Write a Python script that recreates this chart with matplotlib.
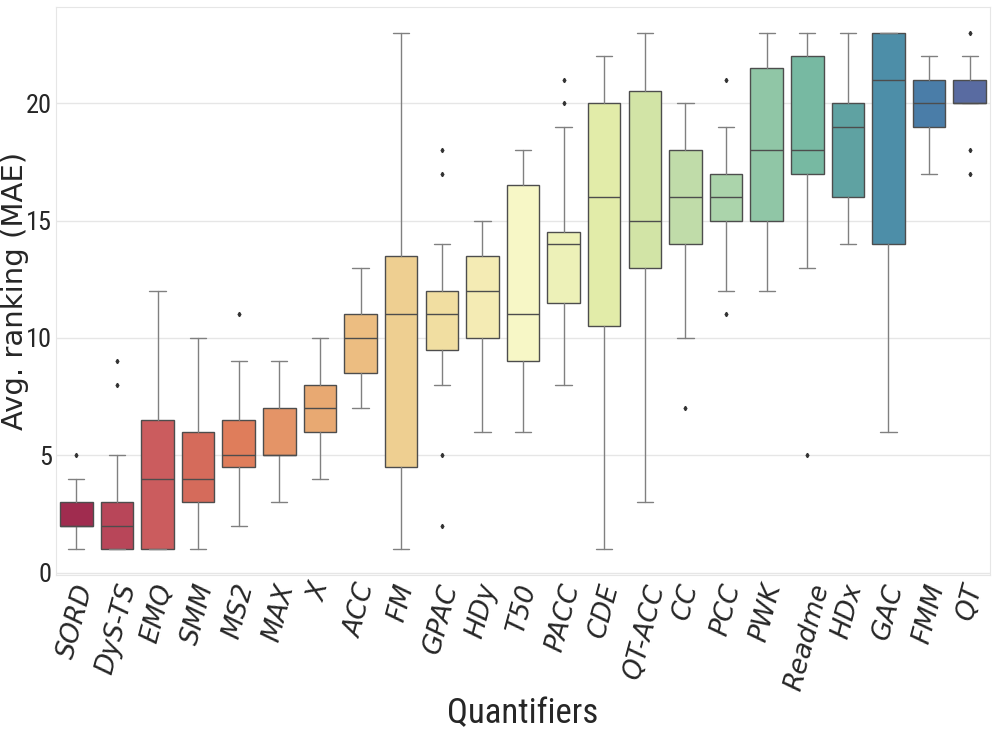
import matplotlib

matplotlib.use("Agg")
import matplotlib.pyplot as plt
import seaborn as sns

quantifiers = ["SORD", "DyS-TS", "EMQ", "SMM", "MS2", "MAX", "X", "ACC", "FM",
               "GPAC", "HDy", "T50", "PACC", "CDE", "QT-ACC", "CC", "PCC", "PWK",
               "Readme", "HDx", "GAC", "FMM", "QT"]
whislo = [1, 1, 1, 1, 2, 3, 4, 7, 1, 8, 6, 6, 8, 1, 3, 10, 12, 12, 13, 14, 6, 17, 20]
q1 = [2, 1, 1, 3, 4.5, 5, 6, 8.5, 4.5, 9.5, 10, 9, 11.5, 10.5, 13, 14, 15, 15, 17, 16, 14, 19, 20]
med = [2, 2, 4, 4, 5, 5, 7, 10, 11, 11, 12, 11, 14, 16, 15, 16, 16, 18, 18, 19, 21, 20, 20]
q3 = [3, 3, 6.5, 6, 6.5, 7, 8, 11, 13.5, 12, 13.5, 16.5, 14.5, 20, 20.5, 18, 17, 21.5, 22, 20, 23, 21, 21]
whishi = [4, 5, 12, 10, 9, 9, 10, 13, 23, 14, 15, 18, 19, 22, 23, 20, 19, 23, 23, 23, 23, 22, 22]
outliers = [[5], [8, 9], [], [], [11], [], [], [], [], [2, 5, 17, 18], [], [], [20, 21],
            [], [], [7], [11, 21], [], [5], [], [], [], [17, 18, 23]]

sns.set_style("whitegrid")
colors = sns.color_palette("Spectral", len(quantifiers), desat=0.75)

stats = []
for i, name in enumerate(quantifiers):
    stats.append(dict(label=name, whislo=whislo[i], q1=q1[i], med=med[i],
                      q3=q3[i], whishi=whishi[i], fliers=outliers[i]))

fig = plt.figure(figsize=(10, 7.5), dpi=100)
ax = fig.add_axes([0.056, 0.233, 0.934, 0.758])

bp = ax.bxp(stats, positions=range(len(quantifiers)), widths=0.8, patch_artist=True,
            boxprops=dict(edgecolor="0.3", linewidth=1.0),
            medianprops=dict(color="0.3", linewidth=1.0),
            whiskerprops=dict(color="0.5", linewidth=1.0),
            capprops=dict(color="0.5", linewidth=1.0),
            flierprops=dict(marker="d", markersize=2.2, markerfacecolor="0.2",
                            markeredgecolor="0.2"),
            capwidths=0.4)
for box, c in zip(bp["boxes"], colors):
    box.set_facecolor(c)

ax.set_xlim(-0.5, len(quantifiers) - 0.5)
ax.set_ylim(-0.1, 24.1)
ax.set_yticks([0, 5, 10, 15, 20])
ax.grid(axis="x", visible=False)
ax.grid(axis="y", color="#e6e6e6", linewidth=1)
for sp in ax.spines.values():
    sp.set_color("#e6e6e6")

narrow = ["Roboto Condensed", "DejaVu Sans"]
ax.set_xticks(range(len(quantifiers)))
ax.set_xticklabels(quantifiers, rotation=75, fontsize=19, style="italic",
                   family="DejaVu Sans")
for lab in ax.get_yticklabels():
    lab.set_fontsize(19)
    lab.set_family(narrow)
ax.tick_params(axis="x", length=0, pad=4)
ax.tick_params(axis="y", length=0, pad=3)
ax.set_ylabel("Avg. ranking (MAE)", fontsize=21, family="DejaVu Sans")
ax.yaxis.set_label_coords(-0.029, 0.5)
ax.set_xlabel("Quantifiers", fontsize=25, family=narrow)
ax.xaxis.set_label_coords(0.5, -0.215)

fig.savefig("out.png", dpi=100)
